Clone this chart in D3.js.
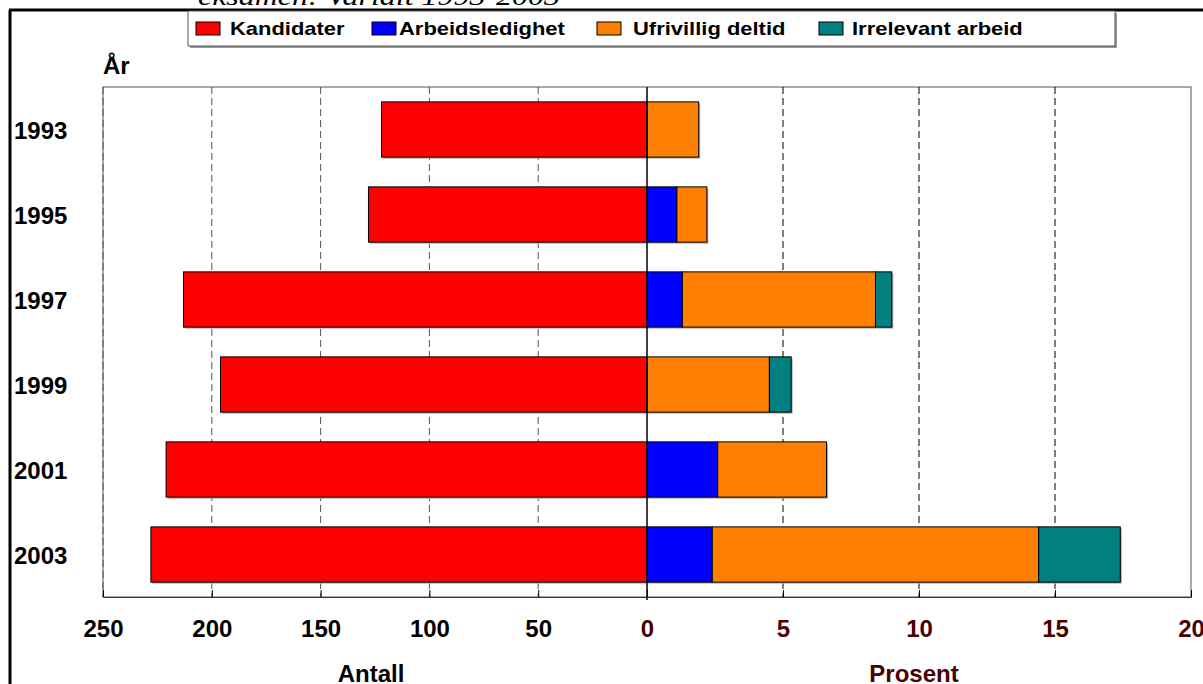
<!DOCTYPE html>
<html>
<head>
<meta charset="utf-8">
<script src="https://cdn.jsdelivr.net/npm/d3@7"></script>
<style>
body{margin:0;background:#fff;}
svg text{font-family:"Liberation Sans",Arial,sans-serif;font-weight:bold;}
</style>
</head>
<body>
<div class="canvas"></div>
<script>
const years = ["1993","1995","1997","1999","2001","2003"];
const kandidater = [122,128,213,196,221,228];
const arbeidsledighet = [0,1.1,1.3,0,2.6,2.4];
const ufrivillig = [1.9,1.1,7.1,4.5,4.0,12.0];
const irrelevant = [0,0,0.6,0.8,0,3.0];
const seriesNames = ["Kandidater","Arbeidsledighet","Ufrivillig deltid","Irrelevant arbeid"];
const seriesColors = ["#ff0000","#0000ff","#ff8000","#008080"];
const leftTicks = [250,200,150,100,50];
const rightTicks = [0,5,10,15,20];

const W = 1203, H = 684;
const plotTop = 87, plotBottom = 597, zeroX = 647;
const maroon = "#4a0000";

const svg = d3.select(".canvas").append("svg")
  .attr("width", W).attr("height", H);

// outer frame (clipped chart)
svg.append("text")
  .attr("x", 198).attr("y", 5)
  .attr("textLength", 362).attr("lengthAdjust", "spacingAndGlyphs")
  .style("font-family", "'Liberation Serif','Times New Roman',serif")
  .style("font-weight", "normal").style("font-style", "italic")
  .style("font-size", "26px")
  .text("eksamen: Varialt 1993-2003");
svg.append("line").attr("x1", 9).attr("x2", W).attr("y1", 10).attr("y2", 10)
  .attr("stroke", "#000").attr("stroke-width", 3);
svg.append("line").attr("x1", 10).attr("x2", 10).attr("y1", 10).attr("y2", H)
  .attr("stroke", "#000").attr("stroke-width", 3);

const xLeft = d3.scaleLinear().domain([0,250]).range([zeroX,103]);
const xRight = d3.scaleLinear().domain([0,20]).range([zeroX,1191]);
const y = d3.scaleBand().domain(years).range([plotTop,plotBottom])
  .paddingInner(0.35).paddingOuter(0.175);

// plot frame
svg.append("rect").attr("x", 103).attr("y", plotTop)
  .attr("width", 1191-103).attr("height", plotBottom-plotTop)
  .attr("fill", "#fff").attr("stroke", "#555").attr("stroke-width", 1);

// grid lines
svg.append("g").selectAll("line").data(leftTicks).join("line")
  .attr("x1", d => xLeft(d)).attr("x2", d => xLeft(d))
  .attr("y1", plotTop).attr("y2", plotBottom)
  .attr("stroke", "#555").attr("stroke-dasharray", "7,4");
svg.append("g").selectAll("line").data(rightTicks.filter(d => d>0 && d<20)).join("line")
  .attr("x1", d => xRight(d)).attr("x2", d => xRight(d))
  .attr("y1", plotTop).attr("y2", plotBottom)
  .attr("stroke", "#000").attr("stroke-dasharray", "7,4");

// left bars
const leftG = svg.append("g");
leftG.selectAll("rect.sh").data(kandidater).join("rect")
  .attr("x", d => xLeft(d)+1.5).attr("y", (d,i) => y(years[i])+1.5)
  .attr("width", d => zeroX-xLeft(d)).attr("height", y.bandwidth())
  .attr("fill", "#aaa");
leftG.append("g").selectAll("rect").data(kandidater).join("rect")
  .attr("x", d => xLeft(d)).attr("y", (d,i) => y(years[i]))
  .attr("width", d => zeroX-xLeft(d)).attr("height", y.bandwidth())
  .attr("fill", seriesColors[0]).attr("stroke", "#000").attr("stroke-width", 1);

// right stacked bars
const rows = years.map((yr,i) => ({year: yr, a: arbeidsledighet[i], u: ufrivillig[i], r: irrelevant[i]}));
const stack = d3.stack().keys(["a","u","r"])(rows);
const rightG = svg.append("g");
rightG.append("g").selectAll("rect").data(rows).join("rect")
  .attr("x", zeroX+1.5).attr("y", d => y(d.year)+1.5)
  .attr("width", d => xRight(d.a+d.u+d.r)-zeroX).attr("height", y.bandwidth())
  .attr("fill", "#aaa");
stack.forEach((s,k) => {
  rightG.append("g").selectAll("rect").data(s.filter(d => d[1]-d[0] > 0)).join("rect")
    .attr("x", d => xRight(d[0])).attr("y", d => y(d.data.year))
    .attr("width", d => xRight(d[1])-xRight(d[0])).attr("height", y.bandwidth())
    .attr("fill", seriesColors[k+1]).attr("stroke", "#000").attr("stroke-width", 1);
});

// zero line
svg.append("line").attr("x1", zeroX).attr("x2", zeroX).attr("y1", plotTop).attr("y2", plotBottom+3)
  .attr("stroke", "#000").attr("stroke-width", 1.5);

// axes
const axL = svg.append("g").attr("transform", `translate(0,${plotBottom})`)
  .call(d3.axisBottom(xLeft).tickValues(leftTicks).tickSize(-7).tickSizeOuter(0));
const axR = svg.append("g").attr("transform", `translate(0,${plotBottom})`)
  .call(d3.axisBottom(xRight).tickValues(rightTicks).tickSize(-7).tickSizeOuter(0));
[axL, axR].forEach((ax, k) => {
  ax.select(".domain").attr("stroke", "#333");
  ax.selectAll(".tick line").attr("stroke", "#000");
  ax.selectAll("text").attr("y", 40).attr("dy", 0)
    .style("font-size", "24px").style("font-family", "'Liberation Sans',Arial,sans-serif")
    .style("font-weight", "bold")
    .attr("fill", k ? maroon : "#000");
});

// year labels
svg.append("g").selectAll("text").data(years).join("text")
  .attr("x", 14).attr("y", d => y(d)+y.bandwidth()/2+9)
  .style("font-size", "24px").text(d => d);
svg.append("text").attr("x", 103).attr("y", 74).style("font-size", "24px").text("År");

// axis titles
svg.append("text").attr("x", 371).attr("y", 682).attr("text-anchor", "middle")
  .style("font-size", "24px").text("Antall");
svg.append("text").attr("x", 914).attr("y", 682).attr("text-anchor", "middle")
  .style("font-size", "24px").attr("fill", maroon).text("Prosent");

// legend
svg.append("rect").attr("x", 190).attr("y", 13).attr("width", 927).attr("height", 35).attr("fill", "#999");
svg.append("rect").attr("x", 188).attr("y", 11).attr("width", 927).attr("height", 35)
  .attr("fill", "#fff").attr("stroke", "#555");
const legendX = [196,372,597,819];
const legendTX = [230,399,633,852];
seriesNames.forEach((name,i) => {
  svg.append("rect").attr("x", legendX[i]).attr("y", 22).attr("width", 24).attr("height", 13)
    .attr("fill", seriesColors[i]).attr("stroke", "#000");
  svg.append("text").attr("transform", `translate(${legendTX[i]},35) scale(1.22,1)`)
    .style("font-size", "18px").text(name);
});
</script>
</body>
</html>
